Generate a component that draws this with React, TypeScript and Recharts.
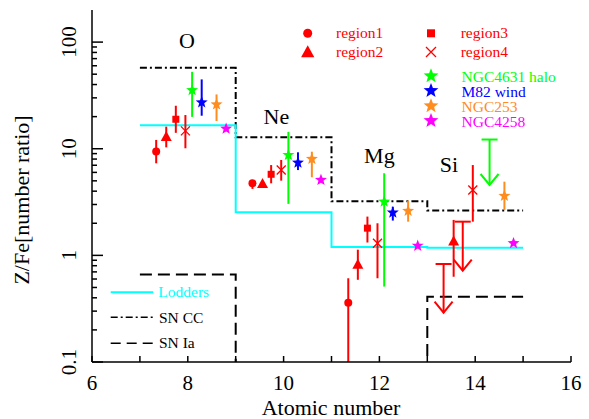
import React from "react";
import { ComposedChart, ErrorBar, Line, Scatter, XAxis, YAxis } from "recharts";

const FONT = "Liberation Serif, Times New Roman, DejaVu Serif, serif";
const RED = "#ff0000";
const GREEN = "#00ff00";
const BLUE = "#0000ff";
const ORANGE = "#ff8c1e";
const MAGENTA = "#ff00ff";
const CYAN = "#00ffff";

type Point = { z: number; v: number; lo?: number; hi?: number };
type Limit = { z: number; cap: number; tip: number };

// measured points (Z, ratio, lower, upper)
const region1: Point[] = [
  { z: 7.34, v: 9.4, lo: 7.3, hi: 12.1 },
  { z: 9.35, v: 4.74, lo: 4.2, hi: 5.1 },
  { z: 11.35, v: 0.36, lo: 0.1, hi: 0.61 },
];
const region2: Point[] = [
  { z: 7.55, v: 12.9, lo: 10.3, hi: 16.1 },
  { z: 9.56, v: 4.67, lo: 4.3, hi: 5.0 },
  { z: 11.55, v: 0.815, lo: 0.59, hi: 1.13 },
  { z: 13.55, v: 1.35, lo: 0.63, hi: 2.15 },
];
const region3: Point[] = [
  { z: 7.75, v: 18.9, lo: 14.1, hi: 25.3 },
  { z: 9.74, v: 5.76, lo: 4.74, hi: 7.03 },
  { z: 11.75, v: 1.8, lo: 1.32, hi: 2.31 },
];
const region4: Point[] = [
  { z: 7.95, v: 14.7, lo: 10.1, hi: 20.7 },
  { z: 9.95, v: 6.31, lo: 5.02, hi: 7.84 },
  { z: 11.96, v: 1.3, lo: 0.61, hi: 2.0 },
  { z: 13.95, v: 4.1, lo: 2.07, hi: 7.03 },
];
const ngc4631: Point[] = [
  { z: 8.09, v: 35.4, lo: 19.9, hi: 52.6 },
  { z: 10.1, v: 8.73, lo: 3.04, hi: 14.4 },
  { z: 12.1, v: 3.19, lo: 0.51, hi: 5.89 },
];
const m82: Point[] = [
  { z: 8.29, v: 27.2, lo: 20.4, hi: 44.7 },
  { z: 10.3, v: 7.39, lo: 6.31, hi: 9.26 },
  { z: 12.28, v: 2.52, lo: 2.12, hi: 2.86 },
];
const ngc253: Point[] = [
  { z: 8.6, v: 26, lo: 18.2, hi: 32.3 },
  { z: 10.59, v: 8.01, lo: 5.4, hi: 9.38 },
  { z: 12.6, v: 2.61, lo: 2.07, hi: 3.26 },
  { z: 14.61, v: 3.61, lo: 2.67, hi: 4.91 },
];
const ngc4258: Point[] = [
  { z: 8.8, v: 15.4 },
  { z: 10.78, v: 5.09 },
  { z: 12.8, v: 1.23 },
  { z: 14.8, v: 1.3 },
];

// upper limits (cap value, arrow tip)
const region1Limits: Limit[] = [{ z: 13.34, cap: 0.83, tip: 0.29 }];
const region3Limits: Limit[] = [{ z: 13.74, cap: 2.07, tip: 0.72 }];
const ngc4631Limits: Limit[] = [{ z: 14.3, cap: 12.2, tip: 4.57 }];

// model abundance steps
const lodders = [
  { z: 7, v: 16.6 },
  { z: 9, v: 2.54 },
  { z: 11, v: 1.2 },
  { z: 13, v: 1.18 },
  { z: 15, v: 1.18 },
];
const snCC = [
  { z: 7, v: 57.5 },
  { z: 9, v: 12.8 },
  { z: 11, v: 3.22 },
  { z: 13, v: 2.64 },
  { z: 15, v: 2.64 },
];
const snIa = [
  { z: 7, v: 0.66 },
  { z: 9, v: 0.01 },
  { z: 11, v: 0.01 },
  { z: 13, v: 0.41 },
  { z: 15, v: 0.41 },
];

const elements = [
  { z: 7.98, v: 88, name: "O" },
  { z: 9.85, v: 17, name: "Ne" },
  { z: 12.0, v: 7.35, name: "Mg" },
  { z: 13.45, v: 6.05, name: "Si" },
];

const xTicks = [6, 7, 8, 9, 10, 11, 12, 13, 14, 15, 16];
const yTicks = [
  0.1, 0.2, 0.3, 0.4, 0.5, 0.6, 0.7, 0.8, 0.9,
  1, 2, 3, 4, 5, 6, 7, 8, 9,
  10, 20, 30, 40, 50, 60, 70, 80, 90,
  100,
];
const yMajor = [0.1, 1, 10, 100];

const errY = (d: Point) => [d.v - (d.lo ?? d.v), (d.hi ?? d.v) - d.v];
const errLimit = (d: { v: number; tip: number }) => [d.v - d.tip, 0];
const capData = (list: Limit[]) => list.map((d) => ({ z: d.z, v: d.cap, tip: d.tip }));
const tipData = (list: Limit[]) => list.map((d) => ({ z: d.z, v: d.tip }));

function starPath(cx: number, cy: number, r: number) {
  const pts: string[] = [];
  for (let i = 0; i < 10; i++) {
    const rad = i % 2 === 0 ? r : r * 0.42;
    const a = -Math.PI / 2 + (i * Math.PI) / 5;
    pts.push(`${cx + rad * Math.cos(a)},${cy + rad * Math.sin(a)}`);
  }
  return `M${pts.join("L")}Z`;
}

const serif = (size: number) => ({ fontFamily: FONT, fontSize: size });

const circle = (r: number) => (p: any) => <circle cx={p.cx} cy={p.cy} r={r} fill={RED} />;
const triangle = (s: number) => (p: any) => (
  <path
    d={`M${p.cx},${p.cy - s * 0.6}L${p.cx - s * 0.55},${p.cy + s * 0.4}L${p.cx + s * 0.55},${p.cy + s * 0.4}Z`}
    fill={RED}
  />
);
const square = (s: number) => (p: any) => (
  <rect x={p.cx - s / 2} y={p.cy - s / 2} width={s} height={s} fill={RED} />
);
const cross = (s: number) => (p: any) => (
  <path
    d={`M${p.cx - s},${p.cy - s}L${p.cx + s},${p.cy + s}M${p.cx - s},${p.cy + s}L${p.cx + s},${p.cy - s}`}
    stroke={RED}
    strokeWidth={1.3}
  />
);
const star = (color: string, r: number) => (p: any) => (
  <path d={starPath(p.cx, p.cy, r)} fill={color} />
);
const cap = (color: string) => (p: any) => (
  <line x1={p.cx - 8} x2={p.cx + 8} y1={p.cy} y2={p.cy} stroke={color} strokeWidth={2} />
);
const arrow = (color: string) => (p: any) => (
  <path
    d={`M${p.cx - 9},${p.cy - 11}L${p.cx},${p.cy}L${p.cx + 9},${p.cy - 11}`}
    stroke={color}
    strokeWidth={2}
    fill="none"
  />
);
const elementLabel = (p: any) => (
  <text x={p.cx} y={p.cy} textAnchor="middle" fill="#000" style={serif(22)}>
    {p.payload.name}
  </text>
);

const BottomTick = (p: any) => {
  const v = p.payload.value;
  return (
    <g>
      <line x1={p.x} x2={p.x} y1={p.y} y2={p.y - 6} stroke="#000" strokeWidth={1.5} />
      {v % 2 === 0 && (
        <text x={p.x} y={p.y + 28} textAnchor="middle" fill="#000" style={serif(21)}>
          {v}
        </text>
      )}
    </g>
  );
};

const TopTick = (p: any) => (
  <line x1={p.x} x2={p.x} y1={p.y} y2={p.y + 6} stroke="#000" strokeWidth={1.5} />
);

const LeftTick = (p: any) => {
  const v = p.payload.value;
  const major = yMajor.includes(v);
  const tx = p.x - 16;
  return (
    <g>
      <line x1={p.x} x2={p.x + (major ? 11 : 5)} y1={p.y} y2={p.y} stroke="#000" strokeWidth={1.5} />
      {major && (
        <text
          x={tx}
          y={p.y}
          transform={`rotate(-90 ${tx} ${p.y})`}
          textAnchor="middle"
          fill="#000"
          style={serif(21)}
        >
          {String(v)}
        </text>
      )}
    </g>
  );
};

const RightTick = (p: any) => {
  const major = yMajor.includes(p.payload.value);
  return (
    <line x1={p.x} x2={p.x - (major ? 11 : 5)} y1={p.y} y2={p.y} stroke="#000" strokeWidth={1.5} />
  );
};

function Legends() {
  const t = serif(15.5);
  return (
    <svg
      width={589}
      height={419}
      style={{ position: "absolute", left: 0, top: 0, pointerEvents: "none" }}
    >
      {circle(4.5)({ cx: 307.7, cy: 33.3 })}
      {triangle(12)({ cx: 307.7, cy: 52.5 })}
      {square(8)({ cx: 431, cy: 33.3 })}
      {cross(5)({ cx: 431, cy: 52 })}
      <text x={336} y={38} fill={RED} style={t}>region1</text>
      <text x={336} y={57} fill={RED} style={t}>region2</text>
      <text x={460.7} y={38} fill={RED} style={t}>region3</text>
      <text x={460.7} y={57} fill={RED} style={t}>region4</text>

      {star(GREEN, 7.8)({ cx: 431, cy: 76 })}
      {star(BLUE, 7.8)({ cx: 431, cy: 90.7 })}
      {star(ORANGE, 7.8)({ cx: 431, cy: 106 })}
      {star(MAGENTA, 7.8)({ cx: 431, cy: 120.7 })}
      <text x={461.5} y={81.5} fill={GREEN} style={t}>NGC4631 halo</text>
      <text x={461.5} y={96.5} fill={BLUE} style={t}>M82 wind</text>
      <text x={461.5} y={111.5} fill={ORANGE} style={t}>NGC253</text>
      <text x={461.5} y={126.5} fill={MAGENTA} style={t}>NGC4258</text>

      <line x1={110.7} x2={153.3} y1={292.3} y2={292.3} stroke={CYAN} strokeWidth={2} />
      <line x1={110.7} x2={153.3} y1={317.3} y2={317.3} stroke="#000" strokeWidth={1.5} strokeDasharray="7 3 2 3" />
      <line x1={110.7} x2={153.3} y1={343.3} y2={343.3} stroke="#000" strokeWidth={1.5} strokeDasharray="10 6" />
      <text x={158.3} y={297} fill={CYAN} style={t}>Lodders</text>
      <text x={159} y={322.5} fill="#000" style={t}>SN CC</text>
      <text x={159} y={348} fill="#000" style={t}>SN Ia</text>

      <text x={331} y={415} textAnchor="middle" fill="#000" style={serif(22)}>
        Atomic number
      </text>
      <text x={29} y={200} transform="rotate(-90 29 200)" textAnchor="middle" fill="#000" style={serif(22)}>
        Z/Fe[number ratio]
      </text>
    </svg>
  );
}

export default function App() {
  const axisLine = { stroke: "#000", strokeWidth: 1.5 };
  return (
    <div style={{ position: "absolute", left: 0, top: 0, width: 589, height: 419, background: "#fff" }}>
      <ComposedChart width={589} height={419} margin={{ top: 10, right: 18, left: 32, bottom: 27 }}>
        <XAxis
          type="number"
          dataKey="z"
          domain={[6, 16]}
          ticks={xTicks}
          interval={0}
          allowDataOverflow
          height={30}
          axisLine={axisLine}
          tickLine={false}
          tickSize={0}
          tickMargin={0}
          tick={BottomTick}
        />
        <XAxis
          xAxisId="top"
          orientation="top"
          type="number"
          dataKey="z"
          domain={[6, 16]}
          ticks={xTicks}
          interval={0}
          allowDataOverflow
          height={0}
          axisLine={axisLine}
          tickLine={false}
          tickSize={0}
          tickMargin={0}
          tick={TopTick}
        />
        <YAxis
          type="number"
          dataKey="v"
          scale="log"
          domain={[0.1, 200]}
          ticks={yTicks}
          interval={0}
          allowDataOverflow
          width={60}
          axisLine={axisLine}
          tickLine={false}
          tickSize={0}
          tickMargin={0}
          tick={LeftTick}
        />
        <YAxis
          yAxisId="right"
          orientation="right"
          type="number"
          dataKey="v"
          scale="log"
          domain={[0.1, 200]}
          ticks={yTicks}
          interval={0}
          allowDataOverflow
          width={0}
          axisLine={axisLine}
          tickLine={false}
          tickSize={0}
          tickMargin={0}
          tick={RightTick}
        />

        <Line data={snIa} dataKey="v" type="stepAfter" stroke="#000" strokeWidth={2} strokeDasharray="12 6" dot={false} isAnimationActive={false} />
        <Line data={snCC} dataKey="v" type="stepAfter" stroke="#000" strokeWidth={2} strokeDasharray="7 3 2 3" dot={false} isAnimationActive={false} />
        <Line data={lodders} dataKey="v" type="stepAfter" stroke={CYAN} strokeWidth={2} dot={false} isAnimationActive={false} />

        <Scatter data={elements} shape={elementLabel} isAnimationActive={false} />

        <Scatter data={region1} shape={circle(4)} isAnimationActive={false}>
          <ErrorBar dataKey={errY} direction="y" width={0} stroke={RED} strokeWidth={2} isAnimationActive={false} />
        </Scatter>
        <Scatter data={region2} shape={triangle(10)} isAnimationActive={false}>
          <ErrorBar dataKey={errY} direction="y" width={0} stroke={RED} strokeWidth={2} isAnimationActive={false} />
        </Scatter>
        <Scatter data={region3} shape={square(7)} isAnimationActive={false}>
          <ErrorBar dataKey={errY} direction="y" width={0} stroke={RED} strokeWidth={2} isAnimationActive={false} />
        </Scatter>
        <Scatter data={region4} shape={cross(4.5)} isAnimationActive={false}>
          <ErrorBar dataKey={errY} direction="y" width={0} stroke={RED} strokeWidth={2} isAnimationActive={false} />
        </Scatter>

        <Scatter data={capData(region1Limits)} shape={cap(RED)} isAnimationActive={false}>
          <ErrorBar dataKey={errLimit} direction="y" width={0} stroke={RED} strokeWidth={2} isAnimationActive={false} />
        </Scatter>
        <Scatter data={tipData(region1Limits)} shape={arrow(RED)} isAnimationActive={false} />
        <Scatter data={capData(region3Limits)} shape={cap(RED)} isAnimationActive={false}>
          <ErrorBar dataKey={errLimit} direction="y" width={0} stroke={RED} strokeWidth={2} isAnimationActive={false} />
        </Scatter>
        <Scatter data={tipData(region3Limits)} shape={arrow(RED)} isAnimationActive={false} />

        <Scatter data={ngc4631} shape={star(GREEN, 6.3)} isAnimationActive={false}>
          <ErrorBar dataKey={errY} direction="y" width={0} stroke={GREEN} strokeWidth={2} isAnimationActive={false} />
        </Scatter>
        <Scatter data={capData(ngc4631Limits)} shape={cap(GREEN)} isAnimationActive={false}>
          <ErrorBar dataKey={errLimit} direction="y" width={0} stroke={GREEN} strokeWidth={2} isAnimationActive={false} />
        </Scatter>
        <Scatter data={tipData(ngc4631Limits)} shape={arrow(GREEN)} isAnimationActive={false} />
        <Scatter data={m82} shape={star(BLUE, 6.3)} isAnimationActive={false}>
          <ErrorBar dataKey={errY} direction="y" width={0} stroke={BLUE} strokeWidth={2} isAnimationActive={false} />
        </Scatter>
        <Scatter data={ngc253} shape={star(ORANGE, 6.3)} isAnimationActive={false}>
          <ErrorBar dataKey={errY} direction="y" width={0} stroke={ORANGE} strokeWidth={2} isAnimationActive={false} />
        </Scatter>
        <Scatter data={ngc4258} shape={star(MAGENTA, 6.3)} isAnimationActive={false} />
      </ComposedChart>
      <Legends />
    </div>
  );
}
